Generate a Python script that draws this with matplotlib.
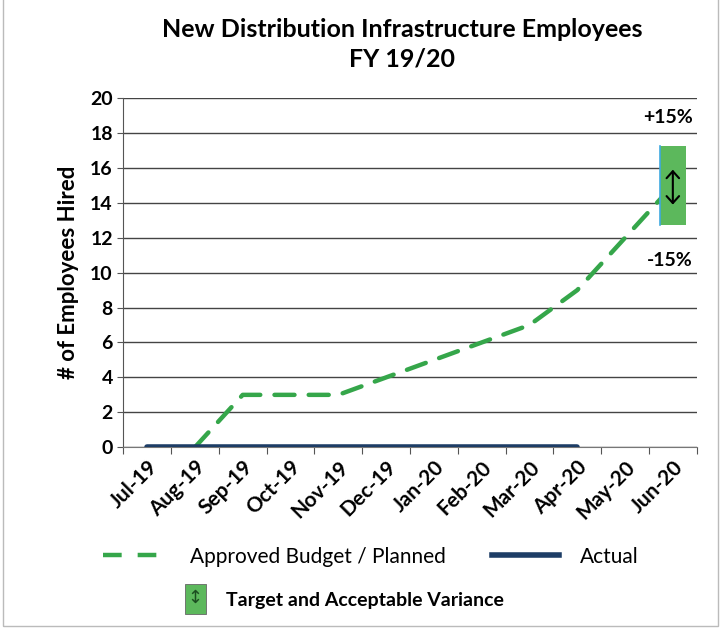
import numpy as np
import matplotlib.pyplot as plt
from matplotlib.lines import Line2D
from matplotlib.patches import Patch, Rectangle

plt.rcParams['font.family'] = ['Lato', 'DejaVu Sans']

# data
months = ['Jul-19', 'Aug-19', 'Sep-19', 'Oct-19', 'Nov-19', 'Dec-19',
          'Jan-20', 'Feb-20', 'Mar-20', 'Apr-20', 'May-20', 'Jun-20']
planned = [0, 0, 3, 3, 3, 4, 5, 6, 7, 9, 12, 15]
actual = [0, 0, 0, 0, 0, 0, 0, 0, 0, 0]
target = 15
variance = 0.15

green = '#35a64a'
navy = '#1d3d66'

x = np.arange(len(months))

fig = plt.figure(figsize=(7.25, 6.29), dpi=100)
ax = fig.add_axes([0.170, 0.289, 0.791, 0.555])

# planned line (Jul value sits under the actual line)
ax.plot(x[1:], planned[1:], color=green, lw=3.2, dashes=(4.5, 3.2),
        dash_capstyle='round', zorder=3)
ax.plot(x[:len(actual)], actual, color=navy, lw=4.0, solid_capstyle='round', zorder=4)

# target box +-15%
lo = target * (1 - variance)
hi = target * (1 + variance)
ax.add_patch(Rectangle((x[-1] - 0.27, lo), 0.54, hi - lo, facecolor='#5cb85c',
                       edgecolor='none', zorder=5))
ax.plot([x[-1] - 0.27, x[-1] - 0.27], [lo, hi], color='#3fa9e0', lw=1.2, zorder=6)
ax.annotate('', xy=(x[-1], 15.9), xytext=(x[-1], 13.9),
            arrowprops=dict(arrowstyle='<->, head_length=0.5, head_width=0.45',
                            color='black', lw=1.5, shrinkA=0, shrinkB=0), zorder=7)
ax.text(x[-1] + 0.42, 18.9, '+15%', ha='right', va='center', fontsize=14,
        fontweight='bold', zorder=7)
ax.text(x[-1] + 0.42, 10.7, '-15%', ha='right', va='center', fontsize=14,
        fontweight='bold', zorder=7)

ax.set_ylim(0, 20)
ax.set_xlim(-0.5, len(months) - 0.5)
ax.set_yticks(range(0, 21, 2))
ax.set_yticklabels([str(v) for v in range(0, 21, 2)], fontsize=14, fontweight='bold')
ax.set_xticks(np.arange(-0.5, len(months), 1.0))
ax.set_xticklabels([])
ax.set_xticks(x, minor=True)
ax.set_xticklabels(months, minor=True, rotation=45, ha='right',
                   rotation_mode='anchor', fontsize=15, fontweight='bold')
ax.tick_params(axis='x', which='minor', length=0, pad=7)
ax.tick_params(axis='x', which='major', length=5, color='#555555', direction='out')
ax.tick_params(axis='y', length=4, color='#555555')
ax.yaxis.grid(True, color='#444444', lw=1.0)
ax.set_axisbelow(True)
for s in ['top', 'right']:
    ax.spines[s].set_visible(False)
ax.spines['left'].set_color('#555555')
ax.spines['bottom'].set_color('#777777')

ax.set_ylabel('# of Employees Hired', fontsize=16, fontweight='bold', labelpad=8)
fig.text(0.555, 0.93, 'New Distribution Infrastructure Employees\nFY 19/20',
         ha='center', va='center', fontsize=18, fontweight='bold', linespacing=1.35)

# legend
h1 = Line2D([0], [0], color=green, lw=3.2, dashes=(4.2, 3.6))
h2 = Line2D([0], [0], color=navy, lw=4.0)
leg1 = fig.legend([h1, h2], ['Approved Budget / Planned', 'Actual'], ncol=2,
                  loc='center', bbox_to_anchor=(0.511, 0.115), frameon=False,
                  fontsize=15, handlelength=3.2, handletextpad=1.0,
                  columnspacing=2.2)
h3 = Patch(facecolor='#5cb85c', edgecolor='#666666', lw=0.6)
leg2 = fig.legend([h3], ['Target and Acceptable Variance'], loc='center',
                  bbox_to_anchor=(0.475, 0.047), frameon=False,
                  handlelength=1.1, handleheight=2.0, handletextpad=1.0,
                  prop={'weight': 'bold', 'size': 14})
fig.text(0.2685, 0.049, '\u2195', ha='center', va='center', fontsize=13,
         family='DejaVu Sans', color='#1b4d20', zorder=10)

# outer frame
fig.add_artist(Rectangle((0.004, 0.004), 0.986, 1.2, transform=fig.transFigure,
                         fill=False, edgecolor='#bbbbbb', lw=1.0))

plt.savefig('out.png', dpi=100)
